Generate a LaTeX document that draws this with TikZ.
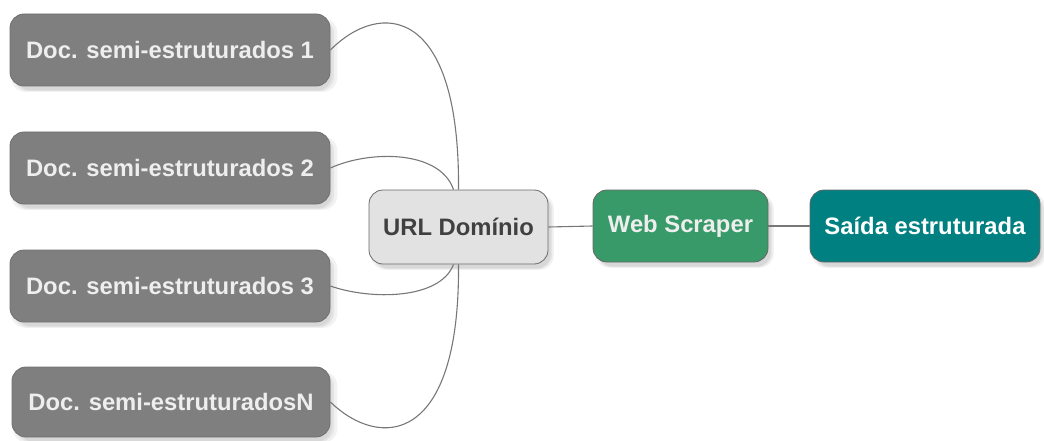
\documentclass[tikz,border=0pt]{standalone}
\usepackage{fontspec}
\setmainfont{Liberation Sans}
\usetikzlibrary{shadows}
\definecolor{docgray}{HTML}{7F7F7F}
\definecolor{docborder}{HTML}{707070}
\definecolor{doctext}{HTML}{EEEEEE}
\definecolor{urlfill}{HTML}{E2E2E2}
\definecolor{urlborder}{HTML}{6A6A6A}
\definecolor{urltext}{HTML}{404040}
\definecolor{webfill}{HTML}{389A68}
\definecolor{webborder}{HTML}{666666}
\definecolor{outfill}{HTML}{008080}
\definecolor{linkgray}{HTML}{777777}
\begin{document}
\begin{tikzpicture}[x=1pt,y=-1pt,
  sh/.style={
    drop shadow={opacity=0.10, shadow xshift=4pt, shadow yshift=-5pt, shadow scale=1.02},
    drop shadow={opacity=0.12, shadow xshift=4pt, shadow yshift=-5pt},
    drop shadow={opacity=0.12, shadow xshift=4pt, shadow yshift=-5pt, shadow scale=0.985}},
  base/.style={sh, rounded corners=14pt, inner sep=0pt, draw, line width=0.8pt,
    font=\bfseries\fontsize{23.8}{27}\selectfont},
  doc/.style={base, fill=docgray, draw=docborder, text=doctext,
    minimum width=320pt, minimum height=72pt},
  urlbox/.style={base, fill=urlfill, draw=urlborder, text=urltext,
    minimum width=179pt, minimum height=74pt},
  webbox/.style={base, fill=webfill, draw=webborder, text=doctext,
    minimum width=175pt, minimum height=72pt},
  outbox/.style={base, fill=outfill, draw=webborder, text=white,
    minimum width=230pt, minimum height=72pt},
  link/.style={draw=linkgray, line width=1.1pt}]
\useasboundingbox (0,0) rectangle (1044,441);
\node[doc] (d1) at (170,50) {Doc. semi-estruturados 1};
\node[doc] (d2) at (170,168) {Doc. semi-estruturados 2};
\node[doc] (d3) at (170,286) {Doc. semi-estruturados 3};
\node[doc, minimum width=318pt, minimum height=70pt] (dn) at (171,402) {Doc. semi-estruturadosN};
\node[urlbox] (u) at (458.5,227) {URL Domínio};
\node[webbox] (w) at (680.5,226) {Web Scraper};
\node[outbox] (s) at (925,226) {Saída estruturada};
\draw[link] (d1.east) .. controls (380,0) and (460,5) .. (u.north);
\draw[link] (d2.east) .. controls (370,150) and (440,150) .. ([xshift=-5pt]u.north);
\draw[link] (d3.east) .. controls (370,300) and (440,300) .. ([xshift=-5pt]u.south);
\draw[link] (dn.east) .. controls (380,450) and (460,445) .. (u.south);
\draw[link] (u.east) -- (w.west);
\draw[link] (w.east) -- (s.west);
\end{tikzpicture}
\end{document}
